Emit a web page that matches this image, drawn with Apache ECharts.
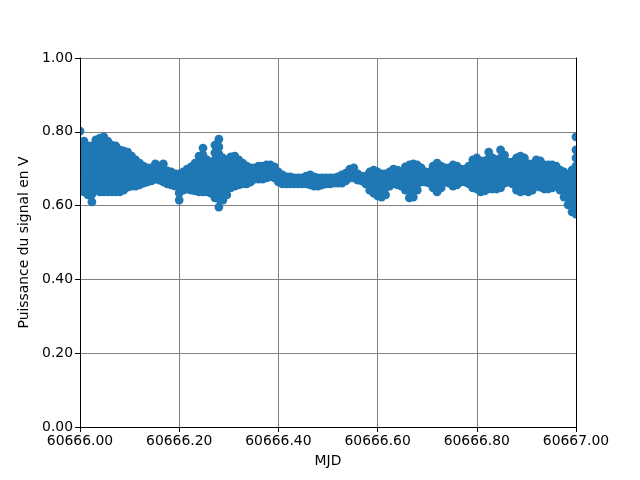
<!DOCTYPE html>
<html><head><meta charset="utf-8">
<script src="https://cdn.jsdelivr.net/npm/echarts@6/dist/echarts.min.js"></script>
<style>html,body{margin:0;padding:0;background:#fff}#c{width:640px;height:480px}</style>
</head><body><div id="c"></div>
<script>
const mjd = [60666.000, 60666.008, 60666.016, 60666.024, 60666.032, 60666.040, 60666.048, 60666.056, 60666.064, 60666.072, 60666.080, 60666.088, 60666.096, 60666.104, 60666.112, 60666.120, 60666.128, 60666.136, 60666.144, 60666.152, 60666.160, 60666.168, 60666.176, 60666.184, 60666.192, 60666.200, 60666.208, 60666.216, 60666.224, 60666.232, 60666.240, 60666.248, 60666.256, 60666.264, 60666.272, 60666.280, 60666.288, 60666.296, 60666.304, 60666.312, 60666.320, 60666.328, 60666.336, 60666.344, 60666.352, 60666.360, 60666.368, 60666.376, 60666.384, 60666.392, 60666.400, 60666.408, 60666.416, 60666.424, 60666.432, 60666.440, 60666.448, 60666.456, 60666.464, 60666.472, 60666.480, 60666.488, 60666.496, 60666.504, 60666.512, 60666.520, 60666.528, 60666.536, 60666.544, 60666.552, 60666.560, 60666.568, 60666.576, 60666.584, 60666.592, 60666.600, 60666.608, 60666.616, 60666.624, 60666.632, 60666.640, 60666.648, 60666.656, 60666.664, 60666.672, 60666.680, 60666.688, 60666.696, 60666.704, 60666.712, 60666.720, 60666.728, 60666.736, 60666.744, 60666.752, 60666.760, 60666.768, 60666.776, 60666.784, 60666.792, 60666.800, 60666.808, 60666.816, 60666.824, 60666.832, 60666.840, 60666.848, 60666.856, 60666.864, 60666.872, 60666.880, 60666.888, 60666.896, 60666.904, 60666.912, 60666.920, 60666.928, 60666.936, 60666.944, 60666.952, 60666.960, 60666.968, 60666.976, 60666.984, 60666.992, 60667.000];

const signal = [
[.802,.770,.737,.718,.699,.683,.661,.642],
[.775,.756,.734,.715,.696,.680,.656,.637],
[.762,.743,.724,.705,.686,.667,.648,.629],
[.762,.740,.718,.697,.675,.653,.631,.610],
[.778,.759,.740,.721,.699,.680,.661,.642],
[.783,.762,.740,.721,.699,.678,.659,.637],
[.786,.764,.743,.721,.702,.680,.659,.637],
[.775,.756,.734,.715,.696,.678,.656,.637],
[.764,.743,.721,.699,.680,.659,.637],
[.762,.740,.721,.699,.678,.659,.637],
[.751,.732,.713,.694,.675,.656,.637],
[.748,.726,.705,.686,.664,.642],
[.745,.726,.707,.688,.669,.650],
[.734,.713,.694,.672,.653],
[.724,.707,.688,.672,.653],
[.715,.696,.675,.656],
[.707,.691,.678,.661],
[.702,.683,.664],
[.702,.683,.667],
[.713,.691,.672],
[.707,.688,.669],
[.713,.696,.680,.664],
[.694,.675,.659],
[.691,.672,.656],
[.686,.669,.653],
[.686,.669,.650,.634,.615],
[.691,.675,.659,.642],
[.699,.680,.664,.645],
[.705,.683,.664,.642],
[.715,.696,.678,.659,.640],
[.734,.715,.696,.675,.656,.637],
[.756,.737,.718,.696,.678,.656,.637],
[.724,.702,.680,.659,.637],
[.718,.696,.675,.656,.634],
[.764,.743,.724,.702,.683,.661,.642,.621],
[.780,.759,.740,.718,.699,.678,.659,.637,.618,.596],
[.729,.710,.691,.672,.653,.634,.615],
[.724,.705,.686,.667,.648,.629],
[.732,.710,.688,.669,.648],
[.734,.713,.694,.672,.653],
[.724,.707,.688,.672,.656],
[.715,.696,.678,.659],
[.707,.691,.675,.659],
[.702,.683,.664],
[.702,.686,.672],
[.707,.688,.672],
[.707,.691,.672],
[.710,.691,.675],
[.710,.694,.678],
[.705,.688,.675],
[.691,.678,.664],
[.683,.669,.659],
[.678,.659],
[.678,.659],
[.675,.659],
[.675,.659],
[.675,.659],
[.680,.659],
[.683,.669,.656],
[.678,.667,.653],
[.675,.664,.653],
[.675,.656],
[.675,.659],
[.675,.659],
[.675,.661],
[.678,.661],
[.683,.672,.661],
[.688,.678,.667],
[.699,.686,.675],
[.702,.688,.675],
[.686,.669],
[.680,.667],
[.680,.659],
[.691,.675,.659,.642],
[.696,.675,.656,.634],
[.691,.669,.648,.626],
[.686,.664,.645,.623],
[.686,.667,.648,.629],
[.691,.672,.653],
[.699,.680,.659],
[.696,.678,.656],
[.691,.672,.653],
[.705,.683,.664,.642],
[.710,.691,.675,.656,.640,.621],
[.713,.694,.678,.659,.642,.623],
[.710,.694,.675,.659,.642],
[.702,.683,.664],
[.691,.678,.664],
[.691,.675,.661],
[.707,.688,.667,.648],
[.715,.696,.675,.656,.637],
[.707,.688,.667,.648],
[.702,.683,.664],
[.702,.680,.661],
[.710,.691,.672,.653],
[.707,.691,.672,.656],
[.699,.680,.664],
[.699,.680,.664],
[.707,.691,.675,.659],
[.724,.705,.686,.667,.648],
[.729,.707,.686,.667,.645],
[.721,.699,.678,.659,.637],
[.721,.699,.680,.659,.640],
[.745,.726,.705,.686,.664,.645],
[.729,.707,.686,.667,.645],
[.724,.705,.686,.664,.645],
[.751,.729,.710,.688,.669,.648],
[.737,.718,.699,.680,.661],
[.718,.699,.683,.664],
[.718,.699,.678,.659],
[.729,.707,.686,.664,.642],
[.734,.715,.696,.675,.656,.637],
[.729,.710,.694,.675,.659,.640],
[.713,.694,.675,.656,.637],
[.713,.694,.678,.659,.642],
[.724,.705,.688,.669,.653],
[.721,.702,.686,.667,.650],
[.710,.688,.667,.645],
[.710,.688,.667,.645],
[.710,.688,.669,.648],
[.707,.688,.672,.653],
[.696,.678,.661,.642],
[.691,.675,.659,.640,.623],
[.680,.661,.642,.621,.602],
[.696,.678,.659,.640,.621,.602,.583],
[.786,.751,.729,.707,.686,.664,.642,.621,.599,.577]
];

const xTicks = {min: 60666, max: 60667, step: 0.2};
const yTicks = {min: 0, max: 1, step: 0.2};

const points = [];
mjd.forEach((t, i) => { (signal[i] || []).forEach(v => points.push([t, v])); });

const font = {fontFamily: 'DejaVu Sans', fontSize: 13.9, color: '#000'};
const G = {left: 80, right: 64, top: 58, bottom: 53};
const line = {show: true, lineStyle: {color: '#000', width: 1}};
const tick = {show: true, inside: false, length: 5, lineStyle: {color: '#000', width: 1}};
const grey = {show: true, lineStyle: {color: '#808080', width: 1}};
const none = {show: false};

const chart = echarts.init(document.getElementById('c'), null, {renderer: 'canvas'});
chart.setOption({
  animation: false,
  grid: Object.assign({show: false, containLabel: false}, G),
  xAxis: [
    {type: 'value', min: xTicks.min, max: xTicks.max, interval: xTicks.step, position: 'bottom', z: 0,
     axisLine: none, axisTick: none, axisLabel: none, splitLine: grey},
    {type: 'value', min: xTicks.min, max: xTicks.max, interval: xTicks.step, position: 'bottom', z: 5,
     name: 'MJD', nameLocation: 'middle', nameGap: 27, nameTextStyle: font,
     axisLine: line, axisTick: tick,
     axisLabel: Object.assign({margin: 7, formatter: v => v.toFixed(2)}, font),
     splitLine: none},
    {type: 'value', min: xTicks.min, max: xTicks.max, interval: xTicks.step, position: 'top', z: 5,
     axisLine: line, axisTick: none, axisLabel: none, splitLine: none}
  ],
  yAxis: [
    {type: 'value', min: yTicks.min, max: yTicks.max, interval: yTicks.step, position: 'left', z: 0,
     axisLine: none, axisTick: none, axisLabel: none, splitLine: grey},
    {type: 'value', min: yTicks.min, max: yTicks.max, interval: yTicks.step, position: 'left', z: 5,
     name: 'Puissance du signal en V', nameLocation: 'middle', nameGap: 45, nameRotate: 90, nameTextStyle: font,
     axisLine: line, axisTick: tick,
     axisLabel: Object.assign({margin: 7, formatter: v => v.toFixed(2)}, font),
     splitLine: none},
    {type: 'value', min: yTicks.min, max: yTicks.max, interval: yTicks.step, position: 'right', z: 5,
     axisLine: line, axisTick: none, axisLabel: none, splitLine: none}
  ],
  graphic: [
    {type: 'rect', z: 3, silent: true, shape: {x: 40, y: 100, width: 40, height: 140}, style: {fill: '#fff'}},
    {type: 'rect', z: 3, silent: true, shape: {x: 576, y: 100, width: 40, height: 140}, style: {fill: '#fff'}}
  ],
  series: [{
    type: 'scatter', xAxisIndex: 0, yAxisIndex: 0, data: points, symbol: 'circle', symbolSize: 8.8, clip: true, z: 2,
    itemStyle: {color: '#1f77b4', opacity: 1}
  }]
});
</script></body></html>
